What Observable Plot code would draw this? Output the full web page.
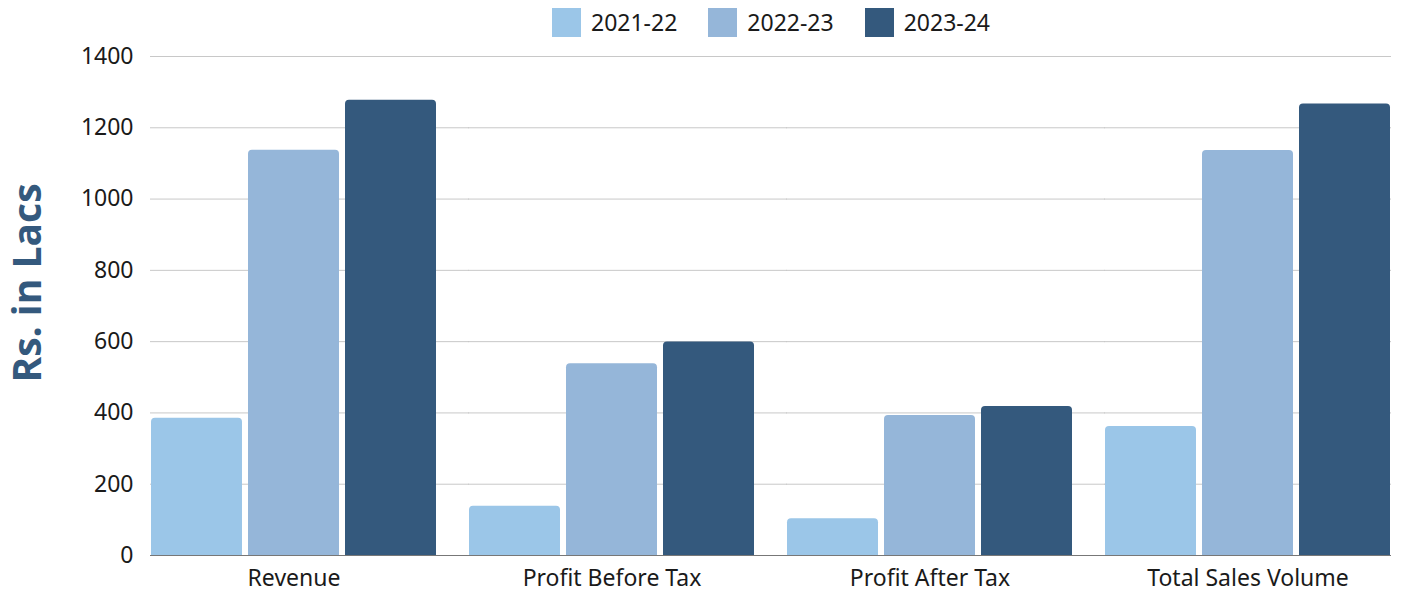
<!DOCTYPE html>
<html>
<head>
<meta charset="utf-8">
<script src="https://cdn.jsdelivr.net/npm/d3@7"></script>
<script src="https://cdn.jsdelivr.net/npm/@observablehq/plot@0.6"></script>
<style>
  html, body { margin: 0; padding: 0; background: #fff; }
  body { width: 1401px; height: 592px; overflow: hidden; font-family: "Noto Sans", sans-serif; }
  #legend { height: 40px; box-sizing: border-box; padding-left: 150px; padding-right: 9px; padding-top: 4px;
    display: flex; justify-content: center; align-items: center; gap: 31px; font-size: 23px; color: #1a1a1a; }
  .item { display: flex; align-items: center; gap: 10px; }
  .sw { width: 29px; height: 29px; display: inline-block; }
</style>
</head>
<body>
<div id="legend"></div>
<div id="chart"></div>
<script>
const categories = ["Revenue", "Profit Before Tax", "Profit After Tax", "Total Sales Volume"];
const years = ["2021-22", "2022-23", "2023-24"];
const values2021 = [385, 138, 103, 362];
const values2022 = [1137, 538, 393, 1136];
const values2023 = [1277, 599, 418, 1267];
const colors = ["#9bc6e8", "#95b6d9", "#34597d"];
const yTicks = [0, 200, 400, 600, 800, 1000, 1200, 1400];
const yLabel = "Rs. in Lacs";

const series = [values2021, values2022, values2023];
const data = categories.flatMap((c, i) => years.map((y, j) => ({category: c, year: y, value: series[j][i]})));
const gridTicks = yTicks.filter(d => d > 0);
const lastCat = categories[categories.length - 1];
const gridInner = categories.slice(0, -1).flatMap(c => gridTicks.map(t => ({category: c, t})));
const gridLast = gridTicks.map(t => ({category: lastCat, t}));
const baseInner = categories.slice(0, -1).map(c => ({category: c, t: 0}));
const baseLast = [{category: lastCat, t: 0}];

// legend
const legend = document.getElementById("legend");
years.forEach((y, j) => {
  const it = document.createElement("div");
  it.className = "item";
  const sw = document.createElement("span");
  sw.className = "sw";
  sw.style.background = colors[j];
  const t = document.createElement("span");
  t.textContent = y;
  it.append(sw, t);
  legend.append(it);
});

const chart = Plot.plot({
  width: 1401,
  height: 552,
  marginTop: 16,
  marginBottom: 37,
  marginLeft: 150,
  marginRight: 9,
  style: {fontFamily: "Noto Sans, sans-serif", fontSize: "23px", color: "#1a1a1a", background: "#fff"},
  fx: {domain: categories, paddingInner: 0.097, paddingOuter: 0, label: null, axis: null},
  x: {domain: years, paddingInner: 0.06, paddingOuter: 0, axis: null},
  y: {domain: [0, 1400], label: null, axis: null},
  color: {domain: years, range: colors},
  marks: [
    Plot.ruleY(gridInner, {fx: "category", y: "t", stroke: "#c8c8c8", strokeWidth: 1, insetRight: -32}),
    Plot.ruleY(gridLast, {fx: "category", y: "t", stroke: "#c8c8c8", strokeWidth: 1}),
    Plot.barY(data, {fx: "category", x: "year", y: "value", fill: "year", ry1: 4}),
    Plot.ruleY(baseInner, {fx: "category", y: "t", stroke: "#777", strokeWidth: 1.2, insetRight: -32}),
    Plot.ruleY(baseLast, {fx: "category", y: "t", stroke: "#777", strokeWidth: 1.2}),
    Plot.axisY({ticks: yTicks, tickFormat: d => String(d), tickSize: 0, tickPadding: 17, label: null, fontSize: 23}),
    Plot.axisFx({anchor: "bottom", tickSize: 0, tickPadding: 14, label: null, fontSize: 23}),
    Plot.text([yLabel], {facet: "super", frameAnchor: "left", textAnchor: "middle", rotate: -90, dx: -122, dy: -23,
      fontSize: 39, fontWeight: "bold", fill: "#34597d", fontFamily: "Open Sans, sans-serif"})
  ]
});
document.getElementById("chart").append(chart);
</script>
</body>
</html>
